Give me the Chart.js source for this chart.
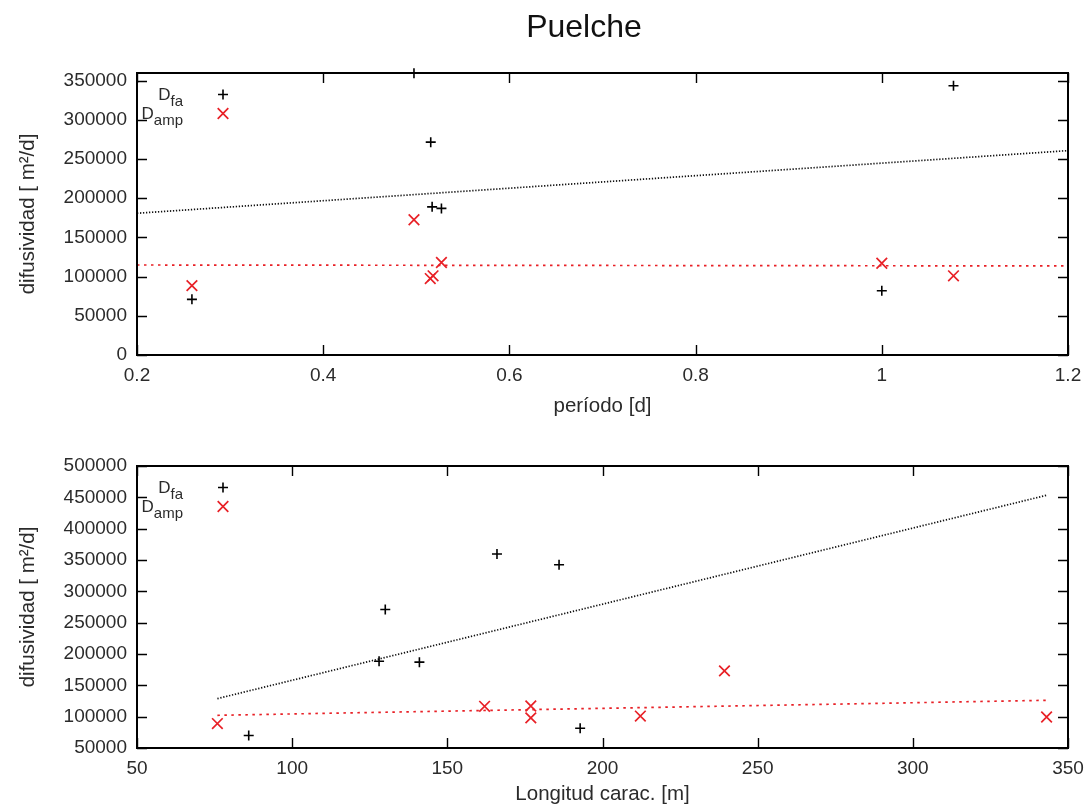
<!DOCTYPE html>
<html><head><meta charset="utf-8">
<script src="https://cdn.jsdelivr.net/npm/chart.js@4/dist/chart.umd.min.js"></script>
<style>
html,body{margin:0;padding:0;background:#fff;}
#wrap{position:relative;width:1087px;height:807px;overflow:hidden;}
canvas{position:absolute;left:0;}
</style></head><body>
<div id="wrap">
<canvas id="c1" width="1087" height="430" style="top:0px"></canvas>
<canvas id="c2" width="1087" height="377" style="top:430px"></canvas>
</div>
<script>
// ---- texts ----
const titleText = 'Puelche';
const yTitle = 'difusividad [ m²/d]';
const xTitleTop = 'período [d]';
const xTitleBottom = 'Longitud carac. [m]';
const seriesMain = ['D', 'D'];
const seriesSub = ['fa', 'amp'];

// ---- tick labels ----
const periodTicks = [0.2, 0.4, 0.6, 0.8, 1, 1.2];
const diffTicksTop = [0, 50000, 100000, 150000, 200000, 250000, 300000, 350000];
const lengthTicks = [50, 100, 150, 200, 250, 300, 350];
const diffTicksBottom = [50000, 100000, 150000, 200000, 250000, 300000, 350000, 400000, 450000, 500000];

// ---- top panel: diffusivity vs period ----
const dfaPeriod = [0.259, 0.4975, 0.5155, 0.517, 0.527, 1.0, 1.077];
const dfaByPeriod = [71000, 359500, 271500, 189000, 187000, 82000, 343500];
const dampPeriod = [0.259, 0.4975, 0.515, 0.518, 0.527, 1.0, 1.077];
const dampByPeriod = [88500, 172500, 97500, 101000, 118000, 117000, 101000];
const fitPeriod = [0.2, 1.2];
const fitDfaPeriod = [180800, 260700];
const fitDampPeriod = [114800, 113600];

// ---- bottom panel: diffusivity vs characteristic length ----
const dfaLength = [86, 128, 130, 141, 166, 186, 192.8];
const dfaByLength = [70000, 188500, 271000, 187000, 359500, 342500, 81500];
const dampLength = [75.9, 162, 176.9, 176.9, 212.2, 239.3, 343.1];
const dampByLength = [89000, 116500, 117000, 98000, 101000, 173000, 99500];
const fitLength = [75.9, 343.1];
const fitDfaLength = [128800, 453300];
const fitDampLength = [102200, 126100];

const FONT = "'Liberation Sans', Arial, Helvetica, sans-serif";
const TXT = '#2b2b2b';
const RED = 'rgb(232,32,38)';
const BLACK = '#000000';

function pts(xs, ys) { return xs.map((x, i) => ({x: x, y: ys[i]})); }

const framePlugin = {
  id: 'gpFrame',
  afterDraw(chart) {
    const {ctx, chartArea: a, scales} = chart;
    const L = 10;
    ctx.save();
    ctx.strokeStyle = '#000';
    ctx.lineWidth = 1.4;
    ctx.beginPath();
    scales.x.ticks.forEach(t => {
      const p = Math.round(scales.x.getPixelForValue(t.value)) + 0.5;
      ctx.moveTo(p, a.bottom); ctx.lineTo(p, a.bottom - L);
      ctx.moveTo(p, a.top); ctx.lineTo(p, a.top + L);
    });
    scales.y.ticks.forEach(t => {
      const p = Math.round(scales.y.getPixelForValue(t.value)) + 0.5;
      ctx.moveTo(a.left, p); ctx.lineTo(a.left + L, p);
      ctx.moveTo(a.right, p); ctx.lineTo(a.right - L, p);
    });
    ctx.stroke();
    ctx.lineWidth = 2;
    ctx.strokeRect(a.left, a.top, a.right - a.left, a.bottom - a.top);
    ctx.restore();
  }
};

const legendPlugin = {
  id: 'gpLegend',
  afterDraw(chart) {
    const {ctx, chartArea: a} = chart;
    const styles = [
      {pointStyle: 'cross', radius: 5, color: BLACK, width: 1.6},
      {pointStyle: 'crossRot', radius: 7.5, color: RED, width: 1.7}
    ];
    const textRight = a.left + 46;
    const markX = a.left + 86;
    ctx.save();
    for (let i = 0; i < 2; i++) {
      const rowY = a.top + 21.5 + i * 19;
      ctx.fillStyle = TXT;
      ctx.textBaseline = 'alphabetic';
      ctx.font = '15px ' + FONT;
      const subW = ctx.measureText(seriesSub[i]).width;
      ctx.textAlign = 'right';
      ctx.fillText(seriesSub[i], textRight, rowY + 11);
      ctx.font = '17px ' + FONT;
      ctx.fillText(seriesMain[i], textRight - subW, rowY + 5.5);
      ctx.strokeStyle = styles[i].color;
      ctx.lineWidth = styles[i].width;
      Chart.helpers.drawPoint(ctx, {pointStyle: styles[i].pointStyle, radius: styles[i].radius, borderWidth: styles[i].width}, markX, rowY);
    }
    ctx.restore();
  }
};

const titlePlugin = {
  id: 'gpTitle',
  afterDraw(chart) {
    const ctx = chart.ctx;
    ctx.save();
    ctx.font = '32px ' + FONT;
    ctx.fillStyle = '#111';
    ctx.textAlign = 'center';
    ctx.textBaseline = 'alphabetic';
    ctx.fillText(titleText, 584, 37);
    ctx.restore();
  }
};

function makeChart(canvas, cfg) {
  return new Chart(canvas, {
    type: 'scatter',
    data: {
      datasets: [
        {label: 'fitDfa', type: 'line', data: pts(cfg.fitX, cfg.fitDfa), borderColor: '#111', borderWidth: 1.7,
         borderDash: [1.3, 1.7], pointRadius: 0, fill: false, showLine: true, order: 3},
        {label: 'fitDamp', type: 'line', data: pts(cfg.fitX, cfg.fitDamp), borderColor: RED, borderWidth: 1.7,
         borderDash: [2.5, 4.5], pointRadius: 0, fill: false, showLine: true, order: 4},
        {label: 'Dfa', data: pts(cfg.dfaX, cfg.dfaY), pointStyle: 'cross', pointRadius: 5, borderColor: BLACK,
         backgroundColor: BLACK, pointBorderWidth: 1.6, clip: false, order: 2},
        {label: 'Damp', data: pts(cfg.dampX, cfg.dampY), pointStyle: 'crossRot', pointRadius: 7.5, borderColor: RED,
         backgroundColor: RED, pointBorderWidth: 1.7, clip: false, order: 1}
      ]
    },
    options: {
      responsive: false,
      animation: false,
      events: [],
      layout: {padding: {left: 0, right: 19, top: cfg.padTop, bottom: 0}},
      plugins: {legend: {display: false}, tooltip: {enabled: false}, title: {display: false}},
      scales: {
        x: {
          type: 'linear', min: cfg.xMin, max: cfg.xMax,
          grid: {display: false, drawTicks: false},
          border: {display: false},
          afterBuildTicks: s => { s.ticks = cfg.xTicks.map(v => ({value: v})); },
          afterFit: s => { s.height = cfg.xAxisH; s.paddingLeft = 0; s.paddingRight = 0; },
          ticks: {color: TXT, font: {family: FONT, size: 19}, padding: 9, maxRotation: 0,
                  callback: v => String(v)},
          title: {display: true, text: cfg.xTitle, color: TXT, font: {family: FONT, size: 20.5},
                  padding: {top: 0, bottom: cfg.xTitlePad}}
        },
        y: {
          type: 'linear', min: cfg.yMin, max: cfg.yMax,
          grid: {display: false, drawTicks: false},
          border: {display: false},
          afterBuildTicks: s => { s.ticks = cfg.yTicks.map(v => ({value: v})); },
          afterFit: s => { s.width = 137; s.paddingTop = 0; s.paddingBottom = 0; },
          ticks: {color: TXT, font: {family: FONT, size: 19}, padding: 10, callback: v => String(v)},
          title: {display: true, text: yTitle, color: TXT, font: {family: FONT, size: 20.5},
                  padding: {top: 16, bottom: 0}}
        }
      }
    },
    plugins: cfg.plugins
  });
}

makeChart(document.getElementById('c1'), {
  fitX: fitPeriod, fitDfa: fitDfaPeriod, fitDamp: fitDampPeriod,
  dfaX: dfaPeriod, dfaY: dfaByPeriod, dampX: dampPeriod, dampY: dampByPeriod,
  xMin: 0.2, xMax: 1.2, yMin: 0, yMax: 359700, xTicks: periodTicks, yTicks: diffTicksTop,
  padTop: 73, xAxisH: 75, xTitle: xTitleTop, xTitlePad: 11,
  plugins: [framePlugin, legendPlugin, titlePlugin]
});

makeChart(document.getElementById('c2'), {
  fitX: fitLength, fitDfa: fitDfaLength, fitDamp: fitDampLength,
  dfaX: dfaLength, dfaY: dfaByLength, dampX: dampLength, dampY: dampByLength,
  xMin: 50, xMax: 350, yMin: 50000, yMax: 500000, xTicks: lengthTicks, yTicks: diffTicksBottom,
  padTop: 36, xAxisH: 59, xTitle: xTitleBottom, xTitlePad: 0,
  plugins: [framePlugin, legendPlugin]
});
</script>
</body></html>
